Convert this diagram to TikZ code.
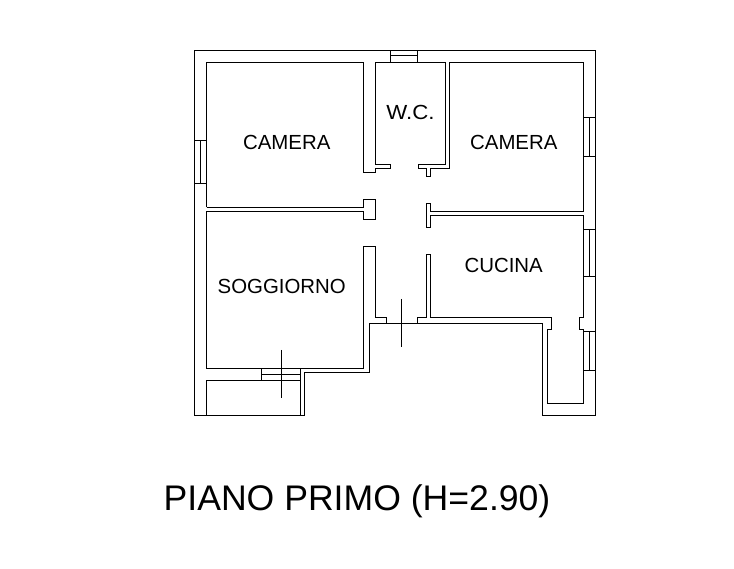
\documentclass[tikz,border=0pt]{standalone}
\usepackage{fontspec}
\setmainfont{Liberation Sans}
\tikzset{
  wall/.style={draw=black,line width=1pt,line join=miter},
  roomlabel/.style={anchor=base,inner sep=0pt,font=\fontsize{20.4}{21}\selectfont,text=black},
  titlelabel/.style={anchor=base,inner sep=0pt,font=\fontsize{35.6}{36}\selectfont,text=black}
}
\begin{document}
\begin{tikzpicture}[x=1pt,y=-1pt]
\useasboundingbox (0,0) rectangle (734,569);
% outer wall
\draw[wall] (194.5,50.5) -- (595.5,50.5) -- (595.5,415.5) -- (542.5,415.5) -- (542.5,323.5) -- (369.5,323.5) -- (369.5,372.5) -- (304.5,372.5) -- (304.5,415.5) -- (194.5,415.5) -- cycle;
% camera 1 / wc / camera 2 / cucina inner line
\draw[wall] (206.5,207.5) -- (206.5,62.5) -- (363.5,62.5) -- (363.5,172.5) -- (375.5,172.5) -- (375.5,168.5) -- (390.5,168.5) -- (390.5,164.5) -- (375.5,164.5) -- (375.5,62.5) -- (445.5,62.5) -- (445.5,164.5) -- (418.5,164.5) -- (418.5,168.5) -- (426.5,168.5) -- (426.5,176.5) -- (430.5,176.5) -- (430.5,168.5) -- (449.5,168.5) -- (449.5,62.5) -- (583.5,62.5) -- (583.5,211.5) -- (430.5,211.5) -- (430.5,203.5) -- (426.5,203.5) -- (426.5,227.5) -- (430.5,227.5) -- (430.5,215.5) -- (583.5,215.5) -- (583.5,317.5) -- (579.5,317.5) -- (579.5,329.5) -- (583.5,329.5) -- (583.5,403.5) -- (547.5,403.5) -- (547.5,329.5) -- (551.5,329.5) -- (551.5,317.5) -- (430.5,317.5) -- (430.5,254.5) -- (426.5,254.5) -- (426.5,317.5) -- (417.5,317.5) -- (417.5,323.5);
% camera 1 lower wall and pier
\draw[wall] (206.5,207.5) -- (363.5,207.5) -- (363.5,199.5) -- (375.5,199.5) -- (375.5,219.5) -- (363.5,219.5) -- (363.5,211.5) -- (206.5,211.5) -- (206.5,368.5) -- (363.5,368.5) -- (363.5,246.5) -- (375.5,246.5) -- (375.5,317.5) -- (386.5,317.5) -- (386.5,323.5);
% windows
\draw[wall] (194.5,140.5) -- (206.5,140.5) (194.5,183.5) -- (206.5,183.5) (200.5,140.5) -- (200.5,183.5);
\draw[wall] (390.5,50.5) -- (390.5,62.5) (417.5,50.5) -- (417.5,62.5) (390.5,55.5) -- (417.5,55.5);
\draw[wall] (583.5,117.5) -- (595.5,117.5) (583.5,156.5) -- (595.5,156.5) (589.5,117.5) -- (589.5,156.5);
\draw[wall] (583.5,229.5) -- (595.5,229.5) (583.5,276.5) -- (595.5,276.5) (589.5,229.5) -- (589.5,276.5);
\draw[wall] (583.5,331.5) -- (595.5,331.5) (583.5,370.5) -- (595.5,370.5) (589.5,331.5) -- (589.5,370.5);
% balcony and balcony door
\draw[wall] (206.5,380.5) -- (206.5,415.5) (206.5,380.5) -- (300.5,380.5) (300.5,368.5) -- (300.5,415.5) (261.5,368.5) -- (261.5,380.5) (261.5,374.5) -- (300.5,374.5);
% door ticks
\draw[wall] (281.5,350) -- (281.5,397.7);
\draw[wall] (401.5,299) -- (401.5,347);
% labels
\node[roomlabel] (cam1) at (286.8,150) {CAMERA};
\node[roomlabel,xscale=1.09] (wc) at (410.5,120) {W.C.};
\node[roomlabel] (cam2) at (513.8,150) {CAMERA};
\node[roomlabel] (sog) at (281.7,294) {SOGGIORNO};
\node[roomlabel] (cuc) at (503.7,272.5) {CUCINA};
\node[titlelabel] (title) at (357,510.5) {PIANO PRIMO (H=2.90)};
\end{tikzpicture}
\end{document}
